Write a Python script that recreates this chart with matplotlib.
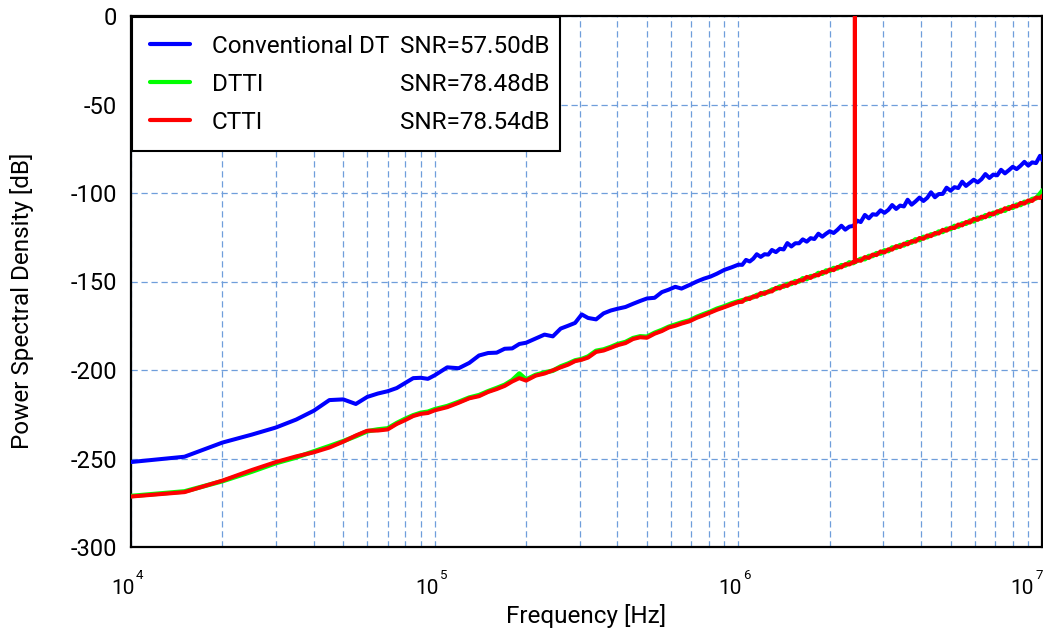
import matplotlib
matplotlib.use("Agg")
import matplotlib.pyplot as plt
from matplotlib.ticker import FixedLocator, NullFormatter
from matplotlib.lines import Line2D
from matplotlib.transforms import blended_transform_factory, offset_copy

plt.rcParams["font.family"] = ["Roboto", "DejaVu Sans"]
plt.rcParams["axes.unicode_minus"] = False

# ---- data -------------------------------------------------------------
freq_khz = [
    10, 15, 20, 25, 30, 35, 40, 45, 50, 55,
    60, 65, 70, 75, 80, 85, 90, 95, 100,
    110, 120, 130, 140, 150, 160, 170, 180, 190, 200,
    215, 230, 245, 260, 275, 290, 305, 320, 340, 360,
    380, 400, 425, 450, 475, 500, 530, 560, 590, 620,
    650, 690, 730, 770, 810, 850, 900, 950,
    1000, 1030, 1060, 1090, 1120, 1150, 1185, 1220, 1255, 1290,
    1330, 1370, 1410, 1450, 1495, 1540, 1585, 1630, 1680, 1730,
    1780, 1835, 1890, 1945, 2000, 2060, 2120, 2185, 2250, 2320,
    2390, 2419, 2420, 2421, 2460, 2530, 2610, 2690, 2770, 2850,
    2940, 3030, 3120, 3210, 3310, 3410, 3510, 3610, 3720, 3830,
    3950, 4070, 4190, 4310, 4440, 4570, 4710, 4850, 5000, 5150,
    5300, 5460, 5620, 5790, 5960, 6140, 6320, 6510, 6710, 6910,
    7120, 7330, 7550, 7780, 8010, 8250, 8500, 8750, 9010, 9280,
    9560, 9850, 10000,
]

psd_conventional_dt = [
    -252.0, -249.0, -241.0, -236.5, -232.5, -228.0, -223.0, -217.0, -216.6, -219.2,
    -215.2, -213.3, -212.0, -210.2, -207.3, -204.6, -204.4, -205.0, -203.0,
    -198.5, -199.0, -196.0, -191.8, -190.4, -190.2, -188.0, -187.8, -185.3, -184.6,
    -182.2, -180.0, -181.0, -176.6, -175.0, -173.4, -168.6, -170.6, -171.4, -168.0,
    -166.4, -165.4, -164.4, -162.6, -161.0, -159.6, -159.2, -156.0, -154.6, -153.0,
    -154.0, -152.0, -150.0, -148.4, -147.2, -145.6, -143.4, -142.0,
    -140.5, -140.6, -137.8, -138.7, -137.1, -134.6, -136.1, -134.6, -134.8, -132.2,
    -133.4, -131.5, -131.9, -128.3, -130.2, -128.4, -128.4, -126.2, -127.5, -125.5,
    -126.0, -123.0, -124.7, -123.0, -121.6, -122.6, -120.8, -118.5, -120.7, -119.0,
    -118.6, -117.6, -117.5, -117.5, -115.6, -116.4, -112.4, -114.3, -112.0, -112.3,
    -109.8, -111.2, -109.5, -106.8, -109.0, -107.1, -107.6, -103.8, -106.6, -104.8,
    -102.6, -104.5, -102.7, -99.6, -102.4, -100.6, -100.5, -97.0, -98.7, -96.7,
    -97.2, -93.6, -96.0, -94.2, -92.5, -94.0, -92.2, -89.3, -91.5, -89.6,
    -90.0, -86.9, -88.9, -87.1, -85.2, -86.5, -84.6, -82.4, -84.5, -82.7,
    -83.1, -79.0, -81.0,
]

psd_dtti = [
    -271.2, -268.6, -262.8, -257.4, -252.6, -249.4, -246.0, -243.0, -240.2, -237.4,
    -234.6, -233.6, -233.0, -230.0, -227.6, -225.6, -224.2, -223.6, -222.2,
    -220.4, -218.0, -215.6, -214.2, -212.0, -210.2, -208.4, -205.8, -202.0, -205.4,
    -202.8, -201.4, -200.4, -198.0, -196.4, -194.6, -193.8, -192.4, -189.2, -188.4,
    -187.0, -185.4, -184.2, -182.0, -181.0, -181.2, -179.0, -177.4, -175.6, -174.4,
    -173.2, -172.0, -170.0, -168.4, -167.0, -165.4, -164.0, -162.4,
    -161.2, -160.6, -160.2, -159.2, -158.9, -157.6, -157.5, -156.2, -156.0, -154.6,
    -154.2, -152.8, -152.9, -151.4, -151.4, -149.8, -150.0, -148.2, -148.6, -147.0,
    -147.0, -145.2, -145.6, -143.8, -144.0, -142.4, -142.6, -140.8, -141.0, -139.2,
    -139.6, -139.0, -138.9, -138.9, -138.4, -137.2, -137.4, -135.6, -135.6, -134.0,
    -134.2, -132.4, -132.8, -130.8, -131.0, -129.4, -129.6, -127.8, -128.0, -126.2,
    -126.6, -124.8, -125.0, -123.4, -123.4, -121.8, -122.0, -120.2, -120.4, -118.6,
    -119.0, -117.2, -117.4, -115.6, -116.0, -114.0, -114.4, -112.6, -113.0, -111.2,
    -111.4, -109.6, -110.0, -108.0, -108.4, -106.6, -106.8, -105.0, -105.2, -103.4,
    -103.0, -100.4, -99.0,
]

psd_ctti = [
    -271.5, -269.0, -262.5, -256.5, -252.0, -248.8, -246.5, -243.8, -240.5, -237.0,
    -234.3, -234.2, -233.6, -230.5, -228.3, -226.0, -224.8, -224.3, -222.8,
    -221.0, -218.5, -216.0, -214.8, -212.4, -210.8, -209.0, -206.5, -204.6, -206.0,
    -203.2, -202.0, -200.2, -198.5, -197.0, -195.0, -194.2, -193.0, -189.8, -189.0,
    -187.5, -186.0, -184.8, -182.5, -181.5, -181.8, -179.5, -178.0, -176.0, -175.0,
    -173.8, -172.5, -170.5, -169.0, -167.5, -166.0, -164.5, -163.0,
    -161.6, -161.5, -159.6, -159.9, -158.4, -158.6, -156.5, -157.0, -155.6, -155.6,
    -153.6, -153.9, -152.2, -152.5, -150.6, -151.0, -149.3, -149.4, -147.4, -148.0,
    -146.4, -146.5, -144.6, -144.9, -143.2, -143.6, -141.8, -142.0, -140.2, -140.4,
    -139.0, -139.1, 0.0, -139.0, -138.0, -138.3, -136.2, -136.7, -134.8, -135.1,
    -133.0, -133.6, -131.8, -132.0, -130.0, -130.5, -128.6, -129.0, -127.2, -127.5,
    -125.4, -125.9, -124.0, -124.4, -122.6, -122.9, -120.8, -121.3, -119.6, -119.8,
    -117.8, -118.3, -116.4, -116.7, -114.6, -115.2, -113.4, -113.7, -111.6, -112.1,
    -110.3, -110.6, -108.6, -109.1, -107.2, -107.6, -105.6, -106.0, -104.2, -104.5,
    -102.6, -102.8, -101.8,
]

series_names = ["Conventional DT", "DTTI", "CTTI"]
snr_labels = ["SNR=57.50dB", "SNR=78.48dB", "SNR=78.54dB"]
series_colors = ["#0000ff", "#00ff00", "#ff0000"]

y_ticks = [0, -50, -100, -150, -200, -250, -300]
x_decades = [1e4, 1e5, 1e6, 1e7]
x_exponents = ["4", "5", "6", "7"]

# ---- figure -----------------------------------------------------------
W, H = 1043, 642
fig = plt.figure(figsize=(W / 100, H / 100), dpi=100)
ax = fig.add_axes([131 / W, 95 / H, 911 / W, 531 / H])

freq_hz = [f * 1e3 for f in freq_khz]
lw = 2.9
ax.plot(freq_hz, psd_conventional_dt, color=series_colors[0], lw=lw,
        solid_joinstyle="round", zorder=3)
ax.plot(freq_hz, psd_dtti, color=series_colors[1], lw=lw + 0.4,
        solid_joinstyle="round", zorder=3)
ax.plot(freq_hz, psd_ctti, color=series_colors[2], lw=lw,
        solid_joinstyle="round", zorder=3)

ax.set_xscale("log")
ax.set_xlim(1e4, 1e7)
ax.set_ylim(-300, 0)

ax.xaxis.set_major_locator(FixedLocator(x_decades))
ax.xaxis.set_major_formatter(NullFormatter())
minor = [m * d for d in x_decades[:-1] for m in range(2, 10)]
ax.xaxis.set_minor_locator(FixedLocator(minor))
ax.xaxis.set_minor_formatter(NullFormatter())
ax.set_yticks(y_ticks)
ax.set_yticklabels([str(v) for v in y_ticks])

grid_kw = dict(color="#6f9edb", linestyle=(0, (5, 3)), linewidth=0.9)
ax.grid(which="major", axis="both", **grid_kw)
ax.grid(which="minor", axis="x", **grid_kw)
ax.set_axisbelow(True)

ax.tick_params(axis="both", which="both", length=0)
ax.tick_params(axis="y", labelsize=17, pad=10)

for s in ax.spines.values():
    s.set_color("black")
    s.set_linewidth(1.6)

# decade labels: "10" with a raised exponent beside it
xform = blended_transform_factory(ax.transData, ax.transAxes)
for i, (d, e) in enumerate(zip(x_decades, x_exponents)):
    # the last decade sits on the figure edge, so pull it inward
    shift = -12 if i == len(x_decades) - 1 else 0
    ax.text(d, 0, "10", fontsize=15, ha="center", va="top",
            transform=offset_copy(xform, fig=fig, x=-8 + shift, y=-32.5,
                                  units="dots"),
            clip_on=False)
    ax.text(d, 0, e, fontsize=9.5, ha="left", va="top",
            transform=offset_copy(xform, fig=fig, x=5 + shift, y=-22,
                                  units="dots"),
            clip_on=False)

ax.set_xlabel("Frequency [Hz]", fontsize=17.5)
ax.xaxis.set_label_coords(0.5, -0.108)
ax.set_ylabel("Power Spectral Density [dB]", fontsize=17.5)
ax.yaxis.set_label_coords(-0.106, 0.463)

# ---- legend -------------------------------------------------------------
handles = [Line2D([], [], color=c, lw=3.0, solid_capstyle="round")
           for c in series_colors]
leg = ax.legend(handles, series_names, loc="upper left",
                bbox_to_anchor=(0.0, 0.0, 0.472, 1.0), mode="expand",
                borderaxespad=0.05, fontsize=17.5, frameon=True,
                fancybox=False, framealpha=1.0, edgecolor="black",
                handlelength=1.65, handletextpad=0.9, borderpad=0.72,
                labelspacing=0.62)
leg.get_frame().set_linewidth(1.5)
leg.set_zorder(5)

fig.canvas.draw()
for txt, snr in zip(leg.get_texts(), snr_labels):
    bb = txt.get_window_extent()
    fig.text(400 / W, bb.y0 / H, snr, fontsize=17.5, ha="left", va="bottom",
             zorder=6)

fig.savefig("out.png", dpi=100)
